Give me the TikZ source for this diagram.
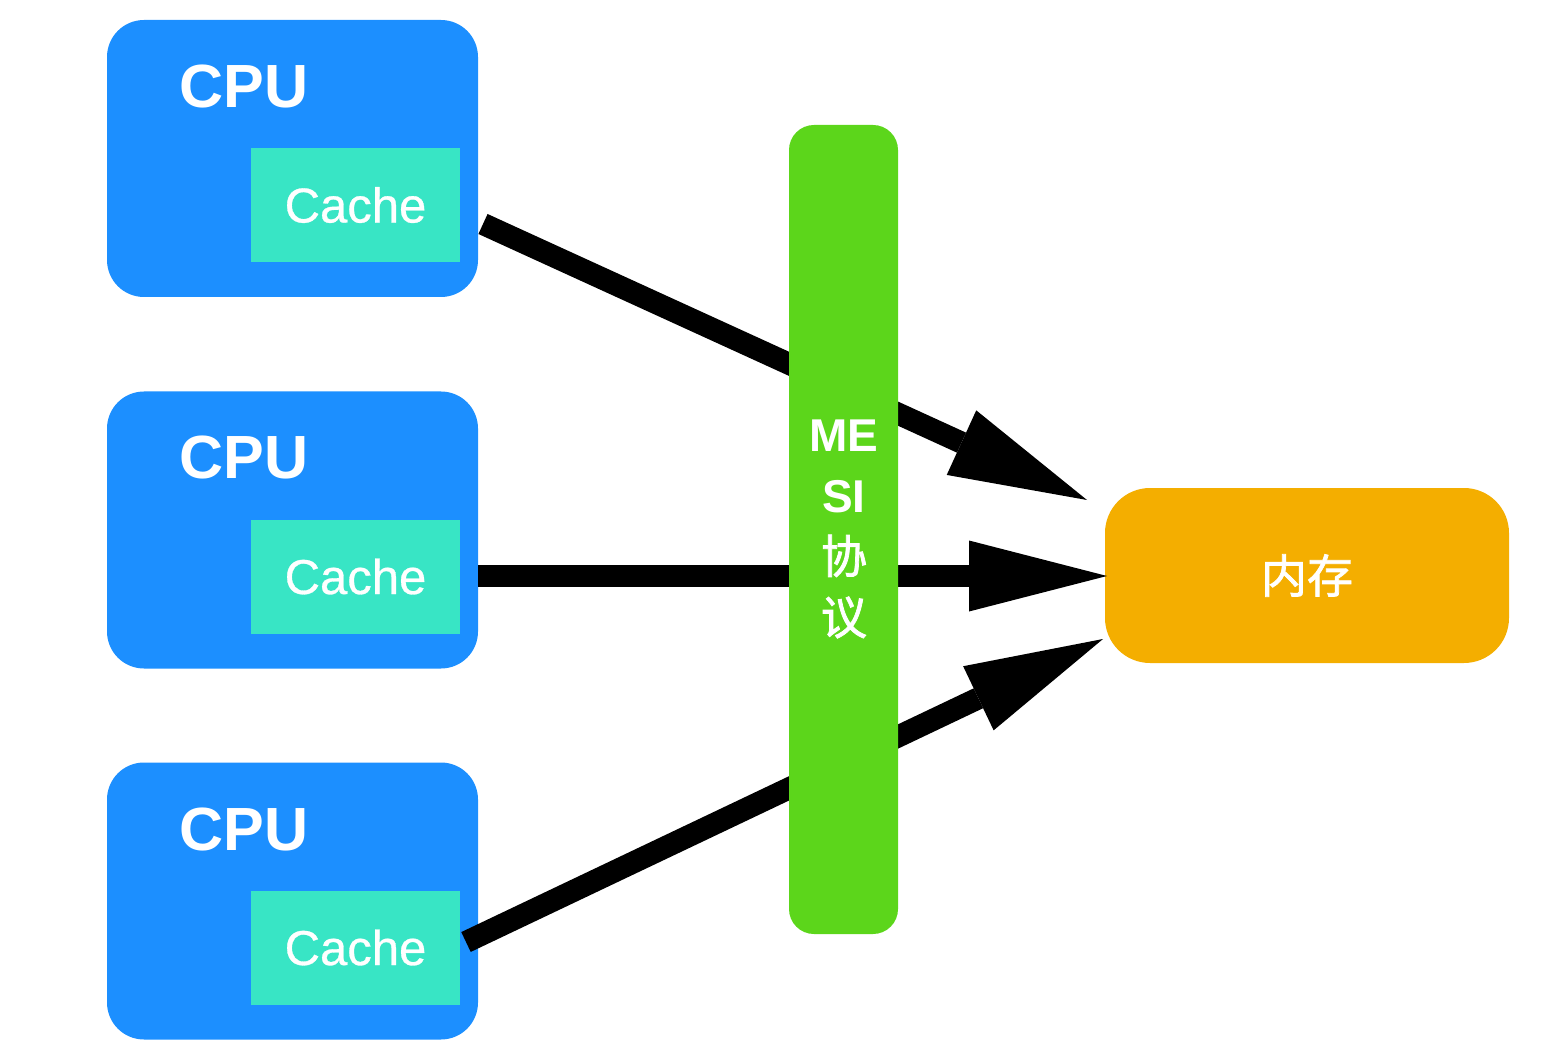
\documentclass[tikz,border=0pt]{standalone}
\usepackage{fontspec}
\setmainfont{Liberation Sans}
\newfontfamily\cjk[FakeBold=1.6]{Noto Sans CJK SC}
\newfontfamily\cachefont[FakeBold=0.6]{Liberation Sans}
\usetikzlibrary{arrows.meta}
\definecolor{cpublue}{RGB}{28,143,255}
\definecolor{cachegreen}{RGB}{56,229,197}
\definecolor{mesigreen}{RGB}{92,214,27}
\definecolor{memorange}{RGB}{244,174,0}
\begin{document}
\begin{tikzpicture}[x=1pt,y=-1pt,
  cpubox/.style={fill=cpublue, rounded corners=37pt, minimum width=371pt, minimum height=277pt, inner sep=0pt, draw=none},
  cachebox/.style={fill=cachegreen, minimum width=209pt, minimum height=114pt, inner sep=0pt, draw=none, text=white, font=\cachefont\fontsize{49pt}{55pt}\selectfont},
  cpulabel/.style={inner sep=0pt, text=white, font=\fontsize{61pt}{70pt}\selectfont\bfseries},
  mesibar/.style={fill=mesigreen, rounded corners=25pt, minimum width=109pt, minimum height=809pt, inner sep=0pt, draw=none},
  mesilabel/.style={inner sep=0pt, text=white, align=center, font=\fontsize{46pt}{61pt}\selectfont\bfseries},
  membox/.style={fill=memorange, rounded corners=45pt, minimum width=404pt, minimum height=175pt, inner sep=0pt, draw=none, text=white, font=\cjk\fontsize{46pt}{55pt}\selectfont},
  conn/.style={line width=22pt, -{Triangle[length=138pt,width=71pt,line width=0pt]}, black}
]
\useasboundingbox (0,0) rectangle (1556,1064);

% CPU boxes
\node[cpubox] (cpu1) at (292.5,158.5) {};
\node[cpubox] (cpu2) at (292.5,530) {};
\node[cpubox] (cpu3) at (292.5,901) {};
\node[cpulabel] (cpu1t) at (244,87) {CPU};
\node[cpulabel] (cpu2t) at (244,458) {CPU};
\node[cpulabel] (cpu3t) at (244,829) {CPU};

% Caches
\node[cachebox] (cache1) at (355.5,205) {Cache};
\node[cachebox] (cache2) at (355.5,576.5) {Cache};
\node[cachebox] (cache3) at (355.5,947.5) {Cache};

% Memory
\node[membox] (mem) at (1307,575.5) {内存};

% connector end points
\coordinate (s1) at (483,224);
\coordinate (t1) at (1087,500);
\coordinate (s2) at (478,576);
\coordinate (t2) at (1107,576);
\coordinate (s3) at (466,942);
\coordinate (t3) at (1103,639);

\draw[conn] (s1) -- (t1);
\draw[conn] (s2) -- (t2);
\draw[conn] (s3) -- (t3);

% MESI bar (on top of the connectors)
\node[mesibar] (mesi) at (843.5,529.5) {};
\node[mesilabel] (mesit) at (844,529) {ME\\SI\\{\cjk\mdseries 协}\\{\cjk\mdseries 议}};
\end{tikzpicture}
\end{document}
